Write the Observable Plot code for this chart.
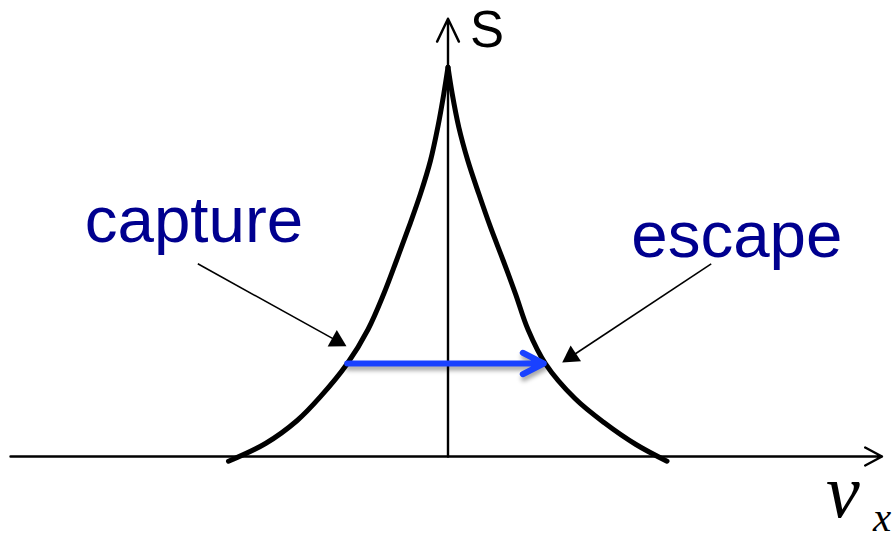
<!DOCTYPE html>
<html>
<head>
<meta charset="utf-8">
<script src="https://cdn.jsdelivr.net/npm/d3@7"></script>
<script src="https://cdn.jsdelivr.net/npm/@observablehq/plot@0.6"></script>
<style>
  html, body { margin: 0; padding: 0; background: #fff; }
  #chart { width: 894px; height: 539px; overflow: hidden; }
</style>
</head>
<body>
<div id="chart"></div>
<script>
// Cusp-shaped S(v_x): left branch (capture side) and right branch (escape side)
const leftV  = [-2.195, -1.825, -1.508, -1.28, -1.008, -0.80, -0.642, -0.515, -0.392, -0.275, -0.175, -0.102, -0.042, 0];
const leftS  = [-0.047, 0.13, 0.36, 0.593, 0.927, 1.27, 1.627, 1.96, 2.293, 2.627, 2.96, 3.293, 3.627, 3.893];
const rightV = [0, 0.042, 0.108, 0.198, 0.308, 0.425, 0.552, 0.675, 0.80, 0.975, 1.27, 1.56, 1.88, 2.19];
const rightS = [3.893, 3.627, 3.293, 2.96, 2.627, 2.293, 1.96, 1.627, 1.27, 0.927, 0.58, 0.34, 0.12, -0.047];

// Transition at constant S: from the capture branch to the escape branch
const jumpS = 0.93;
const jumpFromV = -1.008;
const jumpToV = 0.958;

// Annotation labels and the curve points they point at
const noteText = ["capture", "escape"];
const noteTipV = [-1.015, 1.142];
const noteTipS = [1.103, 0.94];

const curve = [
  ...leftV.map((v, i) => ({branch: "capture", v, S: leftS[i]})),
  ...rightV.map((v, i) => ({branch: "escape", v, S: rightS[i]}))
];

const xDomain = [-4.475, 4.465];
const yDomain = [-0.83, 4.56];
const W = 894, H = 539;
const xs = Plot.scale({x: {domain: xDomain, range: [0, W]}});
const ys = Plot.scale({y: {domain: yDomain, range: [H, 0]}});

// Leader lines from each label to a filled triangular head on the curve
const noteStart = [[-2.502, 1.927], [2.632, 1.927]];
const headR = 7;
const headOffset = 2 * Math.sqrt(Math.PI / (3 * Math.sqrt(3))) * headR; // tip-to-centroid, px
const leaders = noteText.map((t, i) => {
  const sx = xs.apply(noteStart[i][0]), sy = ys.apply(noteStart[i][1]);
  const tx = xs.apply(noteTipV[i]), ty = ys.apply(noteTipS[i]);
  const len = Math.hypot(tx - sx, ty - sy);
  const ux = (tx - sx) / len, uy = (ty - sy) / len;
  const cx = tx - ux * headOffset, cy = ty - uy * headOffset;
  return {
    label: t,
    x1: noteStart[i][0], y1: noteStart[i][1],
    cx: xs.invert(cx), cy: ys.invert(cy),
    rotate: Math.atan2(ux, -uy) * 180 / Math.PI
  };
});

const sans = "Liberation Sans, Arial, Helvetica, sans-serif";
const serif = "Liberation Serif, Times New Roman, serif";
const labelBlue = "#00008f";
const jumpBlue = "#1941ff";

const chart = Plot.plot({
  width: W,
  height: H,
  margin: 0,
  x: {domain: xDomain, axis: null},
  y: {domain: yDomain, axis: null},
  style: {background: "#fff", overflow: "visible"},
  marks: [
    // v_x axis
    Plot.arrow([0], {x1: -4.375, x2: 4.34, y1: 0, y2: 0, stroke: "#000", strokeWidth: 2.4, headLength: 11.9, headAngle: 56}),
    // S axis
    Plot.arrow([0], {x1: 0, x2: 0, y1: 0, y2: 4.377, stroke: "#000", strokeWidth: 2.4, headLength: 15.8, headAngle: 51}),
    // S(v_x) curve
    Plot.line(curve, {x: "v", y: "S", z: "branch", curve: "catmull-rom", stroke: "#000", strokeWidth: 5, strokeLinecap: "round", strokeLinejoin: "round"}),
    // horizontal transition arrow
    Plot.arrow([0], {x1: jumpFromV, x2: jumpToV, y1: jumpS, y2: jumpS, stroke: jumpBlue, strokeWidth: 6, headLength: 5.9, headAngle: 54}),
    // leader lines and heads
    Plot.link(leaders, {x1: "x1", y1: "y1", x2: "cx", y2: "cy", stroke: "#000", strokeWidth: 1.6}),
    Plot.dot(leaders, {x: "cx", y: "cy", symbol: "triangle", r: headR, rotate: "rotate", fill: "#000", stroke: null}),
    // labels
    Plot.text(["capture"], {x: -3.633, y: 2.143, lineAnchor: "bottom", textAnchor: "start", fontSize: 65.5, fontFamily: sans, fill: labelBlue}),
    Plot.text(["escape"], {x: 1.832, y: 1.993, lineAnchor: "bottom", textAnchor: "start", fontSize: 65.5, fontFamily: sans, fill: labelBlue}),
    Plot.text(["S"], {x: 0.219, y: 4.095, lineAnchor: "bottom", textAnchor: "start", fontSize: 51, fontFamily: sans, fill: "#000"}),
    Plot.text(["v"], {x: 3.78, y: -0.60, lineAnchor: "bottom", textAnchor: "start", fontSize: 76, fontFamily: serif, fontStyle: "italic", fill: "#000"}),
    Plot.text(["x"], {x: 4.25, y: -0.74, lineAnchor: "bottom", textAnchor: "start", fontSize: 41, fontFamily: serif, fontStyle: "italic", fill: "#000"})
  ]
});

// soft shadow under the transition arrow
d3.select(chart).selectAll("g[aria-label='arrow']")
  .filter(function () { return this.getAttribute("stroke") === jumpBlue; })
  .style("filter", "drop-shadow(1px 4px 2px rgba(0,0,0,0.35))");

document.getElementById("chart").appendChild(chart);
</script>
</body>
</html>
